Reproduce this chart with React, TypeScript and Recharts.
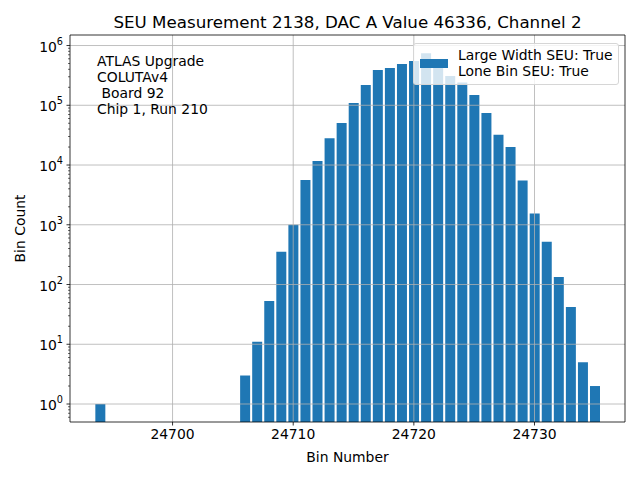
import React from "react";
import {
  ComposedChart,
  Bar,
  XAxis,
  YAxis,
  ReferenceLine,
} from "recharts";

// histogram bins (only the ones that have hits)
const bins = [
  24694, 24706, 24707, 24708, 24709, 24710, 24711, 24712, 24713, 24714, 24715,
  24716, 24717, 24718, 24719, 24720, 24721, 24722, 24723, 24724, 24725, 24726,
  24727, 24728, 24729, 24730, 24731, 24732, 24733, 24734, 24735,
];
const counts = [
  1, 3, 11, 53, 355, 1000, 5600, 11700, 28000, 50500, 109000, 218000, 390000,
  420000, 490000, 550000, 740000, 500000, 310000, 240000, 149000, 74000, 32000,
  20000, 5500, 1550, 520, 134, 42, 5, 2,
];

const xTicks = [24700, 24710, 24720, 24730];
const yMajor = [1, 10, 100, 1000, 10000, 100000, 1000000];
const annotation = ["ATLAS Upgrade", "COLUTAv4", " Board 92", "Chip 1, Run 210"];
const legendLines = ["Large Width SEU: True", "Lone Bin SEU: True"];

const barColor = "#1f77b4";
const gridColor = "#b0b0b0";
const font = "DejaVu Sans, sans-serif";

// one row per integer bin so the bar width follows the bin spacing
const table: { bin: number; count: number | null }[] = [];
for (let b = bins[0]; b <= bins[bins.length - 1]; b++) {
  const i = bins.indexOf(b);
  table.push({ bin: b, count: i >= 0 ? counts[i] : null });
}

// minor log ticks (2..9 in each decade) plus the majors
const yTicks: number[] = [0.6, 0.7, 0.8, 0.9];
for (const m of yMajor) {
  yTicks.push(m);
  if (m < 1000000) for (let k = 2; k <= 9; k++) yTicks.push(m * k);
}

const YTick = (props: any) => {
  const { x, y, payload } = props;
  const v = payload.value as number;
  const exp = Math.round(Math.log10(v));
  const major = Math.abs(Math.log10(v) - exp) < 1e-9;
  return (
    <g>
      <line
        x1={x}
        x2={x - (major ? 3.5 : 2)}
        y1={y}
        y2={y}
        stroke="#000"
        strokeWidth={major ? 0.8 : 0.6}
      />
      {major && (
        <text
          x={x - 7}
          y={y + 6}
          textAnchor="end"
          fontFamily={font}
          fontSize={13.9}
          fill="#000"
        >
          10
          <tspan dy={-7} fontSize={9.7}>
            {exp}
          </tspan>
        </text>
      )}
    </g>
  );
};

export default function App() {
  return (
    <div
      style={{
        position: "absolute",
        left: 0,
        top: 0,
        width: 640,
        height: 480,
        background: "#fff",
        fontFamily: font,
      }}
    >
      <div
        style={{
          position: "absolute",
          left: 0,
          width: 695,
          top: 12,
          textAlign: "center",
          fontSize: 16.7,
          lineHeight: "20px",
        }}
      >
        SEU Measurement 2138, DAC A Value 46336, Channel 2
      </div>

      <ComposedChart
        width={640}
        height={480}
        data={table}
        margin={{ top: 34, right: 14, bottom: 0, left: 0 }}
        barCategoryGap="10%"
      >
        <XAxis
          dataKey="bin"
          type="number"
          domain={[24691.5, 24737.5]}
          allowDataOverflow
          ticks={xTicks}
          interval={0}
          height={58}
          tickSize={3.5}
          tickMargin={3.5}
          stroke="#000"
          tick={{ fill: "#000", fontSize: 13.9, fontFamily: font }}
          axisLine={{ stroke: "#000", strokeWidth: 0.8 }}
          tickLine={{ stroke: "#000", strokeWidth: 0.8 }}
          label={{
            value: "Bin Number",
            position: "insideBottom",
            offset: 18,
            style: { fill: "#000", fontSize: 13.9, fontFamily: font },
          }}
        />
        <XAxis
          xAxisId="top"
          orientation="top"
          type="number"
          domain={[0, 1]}
          height={1}
          tick={false}
          tickLine={false}
          stroke="#000"
          axisLine={{ stroke: "#000", strokeWidth: 0.8 }}
        />
        <YAxis
          type="number"
          scale="log"
          domain={[0.5, 1500000]}
          allowDataOverflow
          ticks={yTicks}
          interval={0}
          width={70}
          tickSize={0}
          tickMargin={0}
          tickLine={false}
          tick={<YTick />}
          axisLine={{ stroke: "#000", strokeWidth: 0.8 }}
          label={{
            value: "Bin Count",
            angle: -90,
            position: "insideLeft",
            offset: 20,
            style: {
              fill: "#000",
              fontSize: 13.9,
              fontFamily: font,
              textAnchor: "middle",
            },
          }}
        />
        <YAxis
          yAxisId="right"
          orientation="right"
          type="number"
          width={1}
          domain={[0, 1]}
          tick={false}
          tickLine={false}
          stroke="#000"
          axisLine={{ stroke: "#000", strokeWidth: 0.8 }}
        />
        <Bar dataKey="count" fill={barColor} isAnimationActive={false} />
        {xTicks.map((t) => (
          <ReferenceLine
            key={"x" + t}
            x={t}
            stroke={gridColor}
            strokeWidth={0.8}
          />
        ))}
        {yMajor.map((t) => (
          <ReferenceLine
            key={"y" + t}
            y={t}
            stroke={gridColor}
            strokeWidth={0.8}
          />
        ))}
      </ComposedChart>

      <div
        style={{
          position: "absolute",
          left: 97,
          top: 53,
          fontSize: 13.9,
          lineHeight: "16px",
          whiteSpace: "pre",
        }}
      >
        {annotation.join("\n")}
      </div>

      <div
        style={{
          position: "absolute",
          left: 413,
          top: 43,
          width: 204,
          height: 40,
          border: "1px solid #d6d6d6",
          borderRadius: 3,
          background: "rgba(255,255,255,0.8)",
        }}
      >
        <div
          style={{
            position: "absolute",
            left: 6,
            top: 15,
            width: 28,
            height: 9,
            background: barColor,
          }}
        />
        <div
          style={{
            position: "absolute",
            left: 44,
            top: 3,
            fontSize: 13.9,
            lineHeight: "16px",
            whiteSpace: "pre",
          }}
        >
          {legendLines.join("\n")}
        </div>
      </div>
    </div>
  );
}
